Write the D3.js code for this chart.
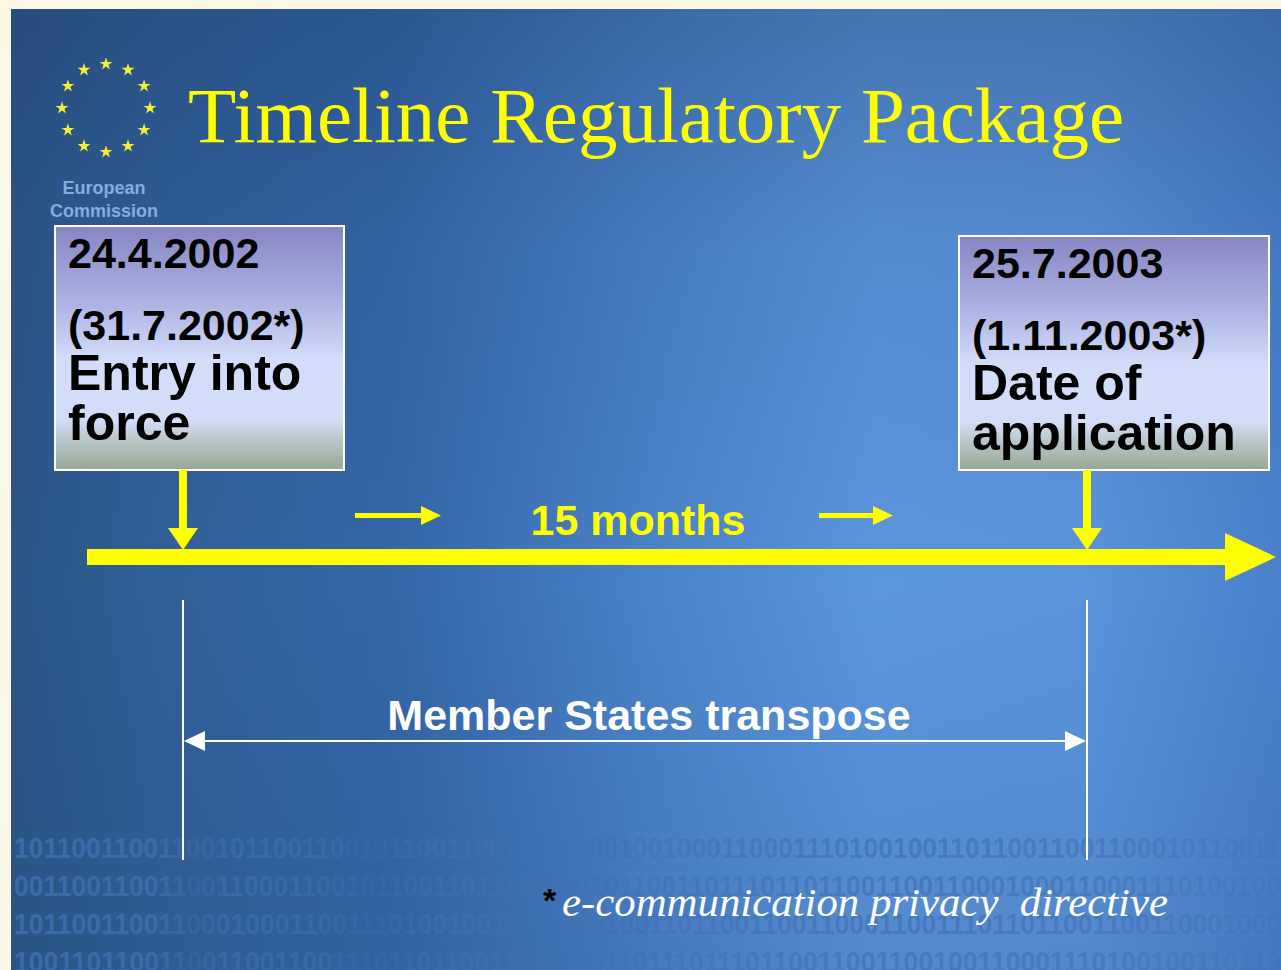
<!DOCTYPE html>
<html>
<head>
<meta charset="utf-8">
<script src="https://cdn.jsdelivr.net/npm/d3@7"></script>
<style>
  body { margin: 0; background: #fcf7e6; }
  svg { display: block; }
</style>
</head>
<body>
<svg></svg>
<script>
/* chart data */
var milestones = ["24.4.2002", "25.7.2003"];
var milestoneAlt = ["(31.7.2002*)", "(1.11.2003*)"];
var milestoneLabels = [["Entry into", "force"], ["Date of", "application"]];
var spanLabel = "15 months";
var transposeLabel = "Member States transpose";
var footnote = "e-communication privacy  directive";
var title = "Timeline Regulatory Package";
var binaryRows = [
  "1011001100110010110011001011001100110011001001000110001110100100110110011001100010110011101110",
  "0011001100110011000110010110011011100110101100110111011011001100110001000110001110100100110110",
  "1011001100110001000110011101001001101100110011011001100110001100111011011001100110001000110001",
  "1001101100110011001100111011011001100110011011101110110011001100100110001110100100110110011001"
];

var width = 1281;
var height = 970;
var slideLeft = 11;
var slideTop = 9;

var parse = d3.timeParse("%d.%m.%Y");
var dates = milestones.map(function (d) { return parse(d); });

var svg = d3.select("svg").attr("width", width).attr("height", height);
var defs = svg.append("defs");

/* background gradients */
var bg = defs.append("linearGradient").attr("id", "bg").attr("x1", 0).attr("x2", 1).attr("y1", 0).attr("y2", 0);
[[0, "#2c5688"], [0.12, "#315f98"], [0.3, "#3466a8"], [0.5, "#4a82c8"], [0.68, "#5b95dc"], [0.85, "#5a93da"], [1, "#4a80cc"]]
  .forEach(function (s) { bg.append("stop").attr("offset", s[0]).attr("stop-color", s[1]); });

var shade = defs.append("linearGradient").attr("id", "shade").attr("x1", 0).attr("x2", 0).attr("y1", 0).attr("y2", 1);
[[0, "#1c3a66", 0.35], [0.25, "#1c3a66", 0.1], [0.6, "#1c3a66", 0], [1, "#1c3a66", 0.12]]
  .forEach(function (s) { shade.append("stop").attr("offset", s[0]).attr("stop-color", s[1]).attr("stop-opacity", s[2]); });

var box = defs.append("linearGradient").attr("id", "box").attr("x1", 0).attr("x2", 0).attr("y1", 0).attr("y2", 1);
[[0, "#8786c4"], [0.3, "#aab0e0"], [0.55, "#d3ddfb"], [0.8, "#d3dcf8"], [0.88, "#b9c6c8"], [1, "#97a796"]]
  .forEach(function (s) { box.append("stop").attr("offset", s[0]).attr("stop-color", s[1]); });

/* faded binary digits */
var bin = defs.append("linearGradient").attr("id", "bin").attr("gradientUnits", "userSpaceOnUse")
  .attr("x1", 0).attr("x2", width).attr("y1", 0).attr("y2", 0);
[[0, 0.8], [0.12, 0.75], [0.15, 0.3], [0.18, 0.6], [0.25, 0.55], [0.29, 0.2], [0.33, 0.5], [0.4, 0.5],
 [0.43, 0.2], [0.47, 0.55], [0.7, 0.7], [0.85, 0.6], [1, 0.35]]
  .forEach(function (s) { bin.append("stop").attr("offset", s[0]).attr("stop-color", "#4070b2").attr("stop-opacity", s[1]); });

svg.append("rect").attr("x", slideLeft).attr("y", slideTop)
  .attr("width", width - slideLeft).attr("height", height - slideTop).attr("fill", "url(#bg)");
svg.append("rect").attr("x", slideLeft).attr("y", slideTop)
  .attr("width", width - slideLeft).attr("height", height - slideTop).attr("fill", "url(#shade)");

/* binary digits decoration */
svg.append("g").selectAll("text")
  .data(binaryRows)
  .enter()
  .append("text")
  .attr("x", 14)
  .attr("y", function (d, i) { return 858 + i * 38; })
  .attr("textLength", width - 14)
  .attr("lengthAdjust", "spacingAndGlyphs")
  .attr("font-family", "'Liberation Sans', sans-serif")
  .attr("font-weight", "bold")
  .attr("font-size", 30)
  .attr("fill", "url(#bin)")
  .text(function (d) { return d.slice(0, 88); });

/* EU logo */
var logo = svg.append("g").attr("transform", "translate(106,108)");
logo.selectAll("path")
  .data(d3.range(12))
  .enter()
  .append("path")
  .attr("d", d3.symbol(d3.symbolStar, 52))
  .attr("fill", "#f4ee3a")
  .attr("transform", function (d) {
    var a = (d / 12) * 2 * Math.PI;
    return "translate(" + 44 * Math.sin(a) + "," + -44 * Math.cos(a) + ")";
  });
["European", "Commission"].forEach(function (t, i) {
  svg.append("text")
    .attr("x", 104).attr("y", 194 + i * 23)
    .attr("text-anchor", "middle")
    .attr("font-family", "'Liberation Sans', Arial, sans-serif")
    .attr("font-weight", "bold")
    .attr("font-size", 18)
    .attr("fill", "#86ace0")
    .text(t);
});

/* title */
svg.append("text")
  .attr("x", 188).attr("y", 142)
  .attr("font-family", "'Liberation Serif', 'Times New Roman', serif")
  .attr("font-size", 79)
  .attr("fill", "#ffff00")
  .text(title);

/* scales */
var xScale = d3.scaleTime().domain(dates).range([183, 1087]);
var axisY = 557;
var yellow = "#ffff00";

/* main timeline arrow */
var axisStart = xScale.range()[0] - 96;
var axisEnd = width - 5;
svg.append("rect")
  .attr("x", axisStart).attr("y", axisY - 8)
  .attr("width", axisEnd - 50 - axisStart).attr("height", 16)
  .attr("fill", yellow);
svg.append("path")
  .attr("d", "M" + (axisEnd - 51) + "," + (axisY - 24) + "L" + axisEnd + "," + axisY + "L" + (axisEnd - 51) + "," + (axisY + 24) + "Z")
  .attr("fill", yellow);

/* boxes */
var boxes = [
  { x: 55, y: 226, w: 289, h: 244 },
  { x: 959, y: 236, w: 310, h: 234 }
];
var g = svg.selectAll(".milestone")
  .data(dates)
  .enter()
  .append("g")
  .attr("class", "milestone");

g.append("rect")
  .attr("x", function (d, i) { return boxes[i].x; })
  .attr("y", function (d, i) { return boxes[i].y; })
  .attr("width", function (d, i) { return boxes[i].w; })
  .attr("height", function (d, i) { return boxes[i].h; })
  .attr("fill", "url(#box)")
  .attr("stroke", "#ffffff")
  .attr("stroke-width", 2);

var boxFont = "'Liberation Sans', Arial, sans-serif";
g.append("text")
  .attr("x", function (d, i) { return boxes[i].x + 13; })
  .attr("y", function (d, i) { return boxes[i].y + 42; })
  .attr("font-family", boxFont).attr("font-weight", "bold").attr("font-size", 43)
  .text(function (d, i) { return milestones[i]; });
g.append("text")
  .attr("x", function (d, i) { return boxes[i].x + 13; })
  .attr("y", function (d, i) { return boxes[i].y + 114; })
  .attr("font-family", boxFont).attr("font-weight", "bold").attr("font-size", 43)
  .text(function (d, i) { return milestoneAlt[i]; });
g.each(function (d, i) {
  var sel = d3.select(this);
  milestoneLabels[i].forEach(function (t, j) {
    sel.append("text")
      .attr("x", boxes[i].x + 13)
      .attr("y", boxes[i].y + 164 + j * 50)
      .attr("font-family", boxFont).attr("font-weight", "bold").attr("font-size", 50)
      .text(t);
  });
});

/* down arrows */
g.append("rect")
  .attr("x", function (d) { return xScale(d) - 4; })
  .attr("y", 470)
  .attr("width", 8)
  .attr("height", 60)
  .attr("fill", yellow);
g.append("path")
  .attr("d", function (d) {
    var x = xScale(d);
    return "M" + (x - 15) + ",528L" + (x + 15) + ",528L" + x + "," + (axisY - 7) + "Z";
  })
  .attr("fill", yellow);

/* small direction arrows */
var smallArrows = [[355, 441], [819, 893]];
svg.selectAll(".small")
  .data(smallArrows)
  .enter()
  .append("path")
  .attr("class", "small")
  .attr("d", function (d) {
    return "M" + d[0] + ",513L" + (d[1] - 20) + ",513L" + (d[1] - 20) + ",506L" + d[1] + ",515.5L" +
      (d[1] - 20) + ",525L" + (d[1] - 20) + ",518L" + d[0] + ",518Z";
  })
  .attr("fill", yellow);

svg.append("text")
  .attr("x", d3.mean(xScale.range()) + 3).attr("y", 535)
  .attr("text-anchor", "middle")
  .attr("font-family", boxFont).attr("font-weight", "bold").attr("font-size", 43)
  .attr("fill", yellow)
  .text(spanLabel);

/* transposition period */
g.append("line")
  .attr("x1", function (d) { return xScale(d); })
  .attr("x2", function (d) { return xScale(d); })
  .attr("y1", 600).attr("y2", 860)
  .attr("stroke", "#ffffff").attr("stroke-width", 2);

var x0 = xScale(dates[0]), x1 = xScale(dates[1]);
svg.append("line")
  .attr("x1", x0 + 18).attr("x2", x1 - 18)
  .attr("y1", 741).attr("y2", 741)
  .attr("stroke", "#ffffff").attr("stroke-width", 2);
svg.append("path")
  .attr("d", "M" + (x0 + 1) + ",741L" + (x0 + 22) + ",731L" + (x0 + 22) + ",751Z" +
    "M" + (x1 - 1) + ",741L" + (x1 - 22) + ",731L" + (x1 - 22) + ",751Z")
  .attr("fill", "#ffffff");

svg.append("text")
  .attr("x", (x0 + x1) / 2 + 14).attr("y", 730)
  .attr("text-anchor", "middle")
  .attr("font-family", boxFont).attr("font-weight", "bold").attr("font-size", 43)
  .attr("fill", "#ffffff")
  .text(transposeLabel);

/* footnote */
svg.append("text")
  .attr("x", 543).attr("y", 912)
  .attr("font-family", boxFont).attr("font-weight", "bold").attr("font-size", 34)
  .attr("fill", "#000000")
  .text("*");
svg.append("text")
  .attr("x", 562).attr("y", 916)
  .attr("font-family", "'Liberation Serif', 'Times New Roman', serif")
  .attr("font-style", "italic")
  .attr("font-size", 40)
  .attr("textLength", 606)
  .attr("lengthAdjust", "spacingAndGlyphs")
  .attr("fill", "#ffffff")
  .style("white-space", "pre")
  .text(footnote);
</script>
</body>
</html>
